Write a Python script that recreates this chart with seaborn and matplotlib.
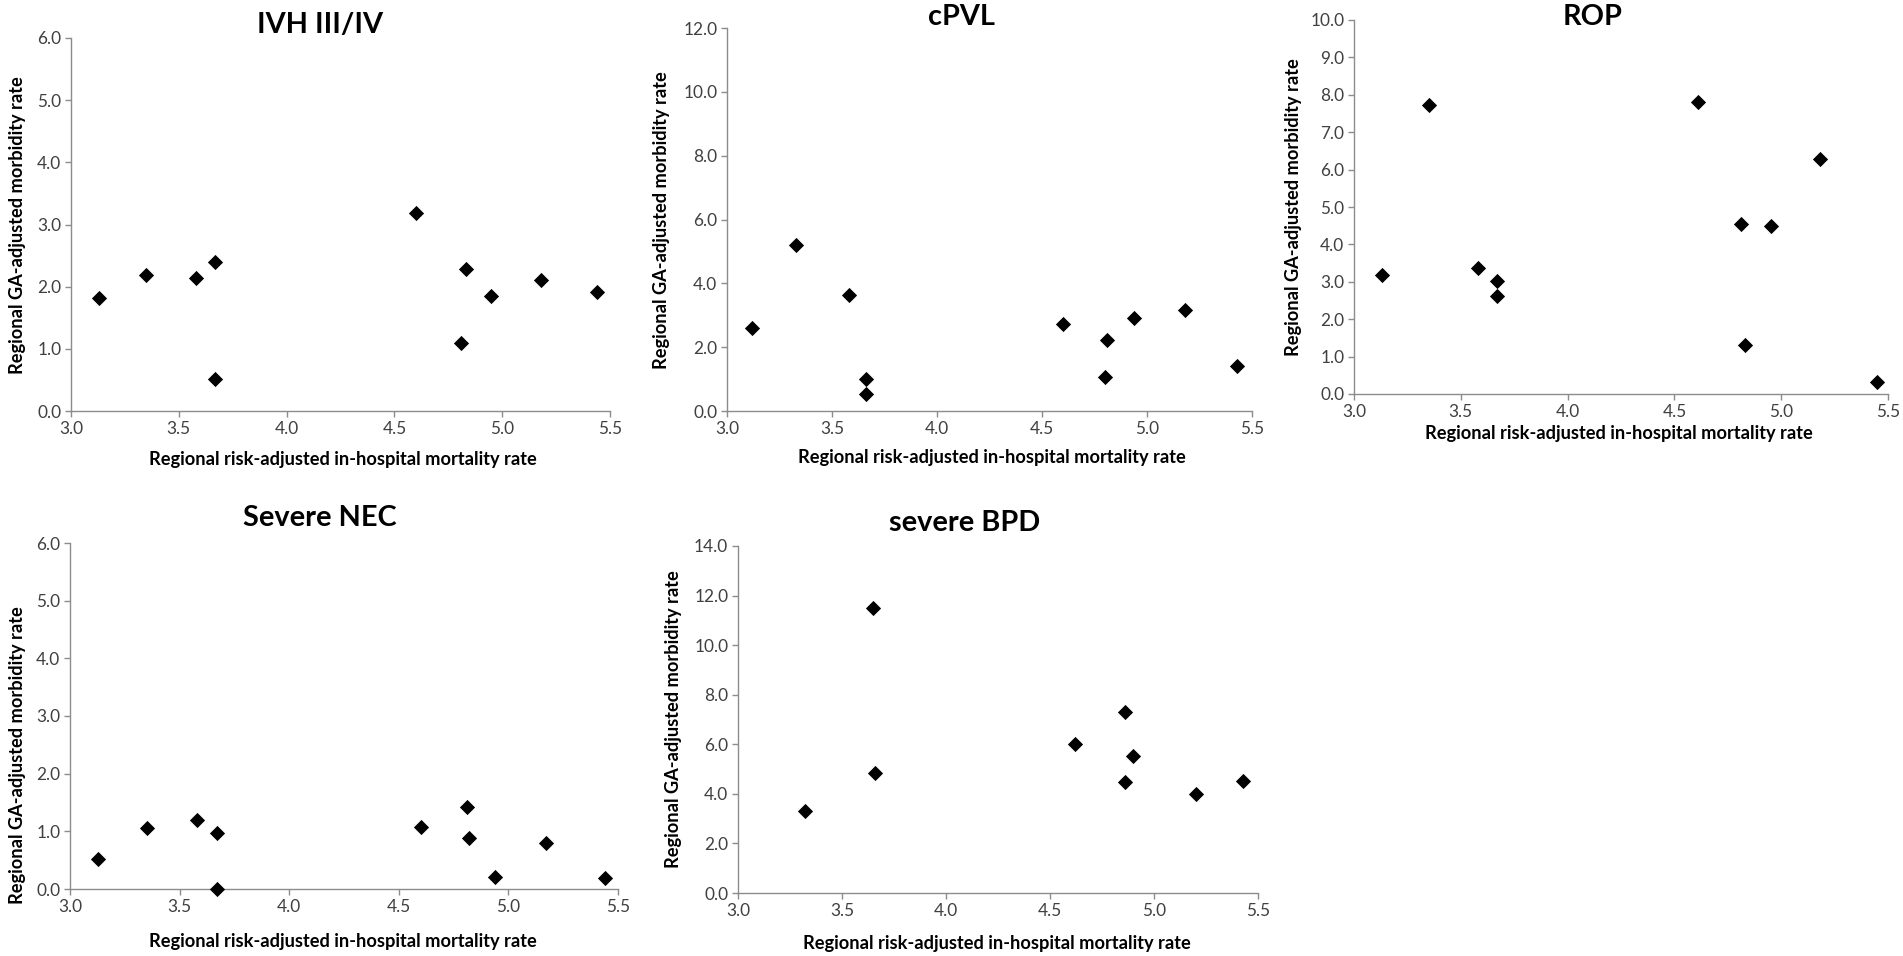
import matplotlib
matplotlib.use("Agg")
import matplotlib.pyplot as plt
import seaborn as sns
import numpy as np
import pandas as pd

# ---------------- data ----------------
ivh_x = [3.13, 3.35, 3.58, 3.67, 3.67, 4.60, 4.81, 4.83, 4.95, 5.18, 5.44]
ivh_y = [1.82, 2.19, 2.14, 2.39, 0.52, 3.18, 1.09, 2.28, 1.85, 2.11, 1.92]

cpvl_x = [3.12, 3.33, 3.58, 3.66, 3.66, 4.60, 4.80, 4.81, 4.94, 5.18, 5.43]
cpvl_y = [2.60, 5.20, 3.62, 1.01, 0.54, 2.74, 1.07, 2.21, 2.92, 3.17, 1.40]

rop_x = [3.13, 3.35, 3.58, 3.67, 3.67, 4.61, 4.81, 4.83, 4.95, 5.18, 5.45]
rop_y = [3.19, 7.74, 3.36, 3.02, 2.62, 7.80, 4.54, 1.30, 4.50, 6.28, 0.33]

nec_x = [3.13, 3.35, 3.58, 3.67, 3.67, 4.60, 4.81, 4.82, 4.94, 5.17, 5.44]
nec_y = [0.52, 1.06, 1.19, 0.97, 0.00, 1.08, 1.43, 0.88, 0.21, 0.80, 0.19]

bpd_x = [3.32, 3.65, 3.66, 4.62, 4.86, 4.86, 4.90, 5.20, 5.43]
bpd_y = [3.29, 11.50, 4.85, 6.01, 7.30, 4.46, 5.54, 3.99, 4.50]

titles = ["IVH III/IV", "cPVL", "ROP", "Severe NEC", "severe BPD"]
x_ticks = [3.0, 3.5, 4.0, 4.5, 5.0, 5.5]
y_ticks_list = [
    [0, 1, 2, 3, 4, 5, 6],
    [0, 2, 4, 6, 8, 10, 12],
    [0, 1, 2, 3, 4, 5, 6, 7, 8, 9, 10],
    [0, 1, 2, 3, 4, 5, 6],
    [0, 2, 4, 6, 8, 10, 12, 14],
]
x_label = "Regional risk-adjusted in-hospital mortality rate"
y_label = "Regional GA-adjusted morbidity rate"

# ---------------- style ----------------
sns.set_theme(style="white")
plt.rcParams["font.family"] = ["Lato", "DejaVu Sans"]

W, H = 1903, 956
fig = plt.figure(figsize=(W / 100, H / 100), dpi=100)
fig.patch.set_facecolor("white")
renderer = fig.canvas.get_renderer()


def fit_size(text, target_px, weight="normal"):
    t = fig.text(0, 0, text, fontsize=10, fontweight=weight)
    w = t.get_window_extent(renderer=renderer).width
    t.remove()
    return 10.0 * target_px / w


title_fs = fit_size("IVH III/IV", 126, "bold")
tick_fs = fit_size("6.0", 24)
label_fs = fit_size(x_label, 387, "bold")

# axes boxes in pixels: left, right, top, bottom
boxes = [
    (71, 610, 38, 411),
    (727, 1252, 28, 411),
    (1354, 1888, 20, 394),
    (70, 618, 543, 889),
    (738, 1258, 546, 893),
]
title_pos = [(320, 25), (961, 17), (1593, 17), (320, 518), (965, 523)]
xlabel_pos = [(343, 459), (992, 458), (1619, 434), (343, 941), (997, 944)]
ylabel_pos = [(18, 225), (661, 220), (1293, 207), (18, 755), (674, 719)]

datasets = [(ivh_x, ivh_y), (cpvl_x, cpvl_y), (rop_x, rop_y),
            (nec_x, nec_y), (bpd_x, bpd_y)]

spine_col = "#8c8c8c"
tick_col = "#404040"

for i, ((xs, ys), (l, r, t, b)) in enumerate(zip(datasets, boxes)):
    ax = fig.add_axes([l / W, 1 - b / H, (r - l) / W, (b - t) / H])
    df = pd.DataFrame({"x": xs, "y": ys})
    sns.scatterplot(data=df, x="x", y="y", ax=ax, marker="D", color="black",
                    s=60, linewidth=0, clip_on=False, zorder=5)
    yt = y_ticks_list[i]
    ax.set_xlim(3.0, 5.5)
    ax.set_ylim(yt[0], yt[-1])
    ax.set_xticks(x_ticks)
    ax.set_xticklabels([f"{v:.1f}" for v in x_ticks])
    ax.set_yticks(yt)
    ax.set_yticklabels([f"{v:.1f}" for v in yt])
    ax.set_xlabel("")
    ax.set_ylabel("")
    for s in ["top", "right"]:
        ax.spines[s].set_visible(False)
    for s in ["left", "bottom"]:
        ax.spines[s].set_color(spine_col)
        ax.spines[s].set_linewidth(1.0)
    ax.tick_params(axis="both", which="major", direction="out", length=4,
                   width=1.0, color=spine_col, labelcolor=tick_col,
                   labelsize=tick_fs, pad=3, bottom=True, left=True)
    ax.grid(False)
    ax.set_facecolor("white")

    tx, ty = title_pos[i]
    fig.text(tx / W, 1 - ty / H, titles[i], ha="center", va="center",
             fontsize=title_fs, fontweight="bold", color="black")
    lx, ly = xlabel_pos[i]
    fig.text(lx / W, 1 - ly / H, x_label, ha="center", va="center",
             fontsize=label_fs, fontweight="bold", color="black")
    yx, yy = ylabel_pos[i]
    fig.text(yx / W, 1 - yy / H, y_label, ha="center", va="center",
             rotation=90, fontsize=label_fs, fontweight="bold", color="black")

fig.savefig("out.png", dpi=100, facecolor="white")
